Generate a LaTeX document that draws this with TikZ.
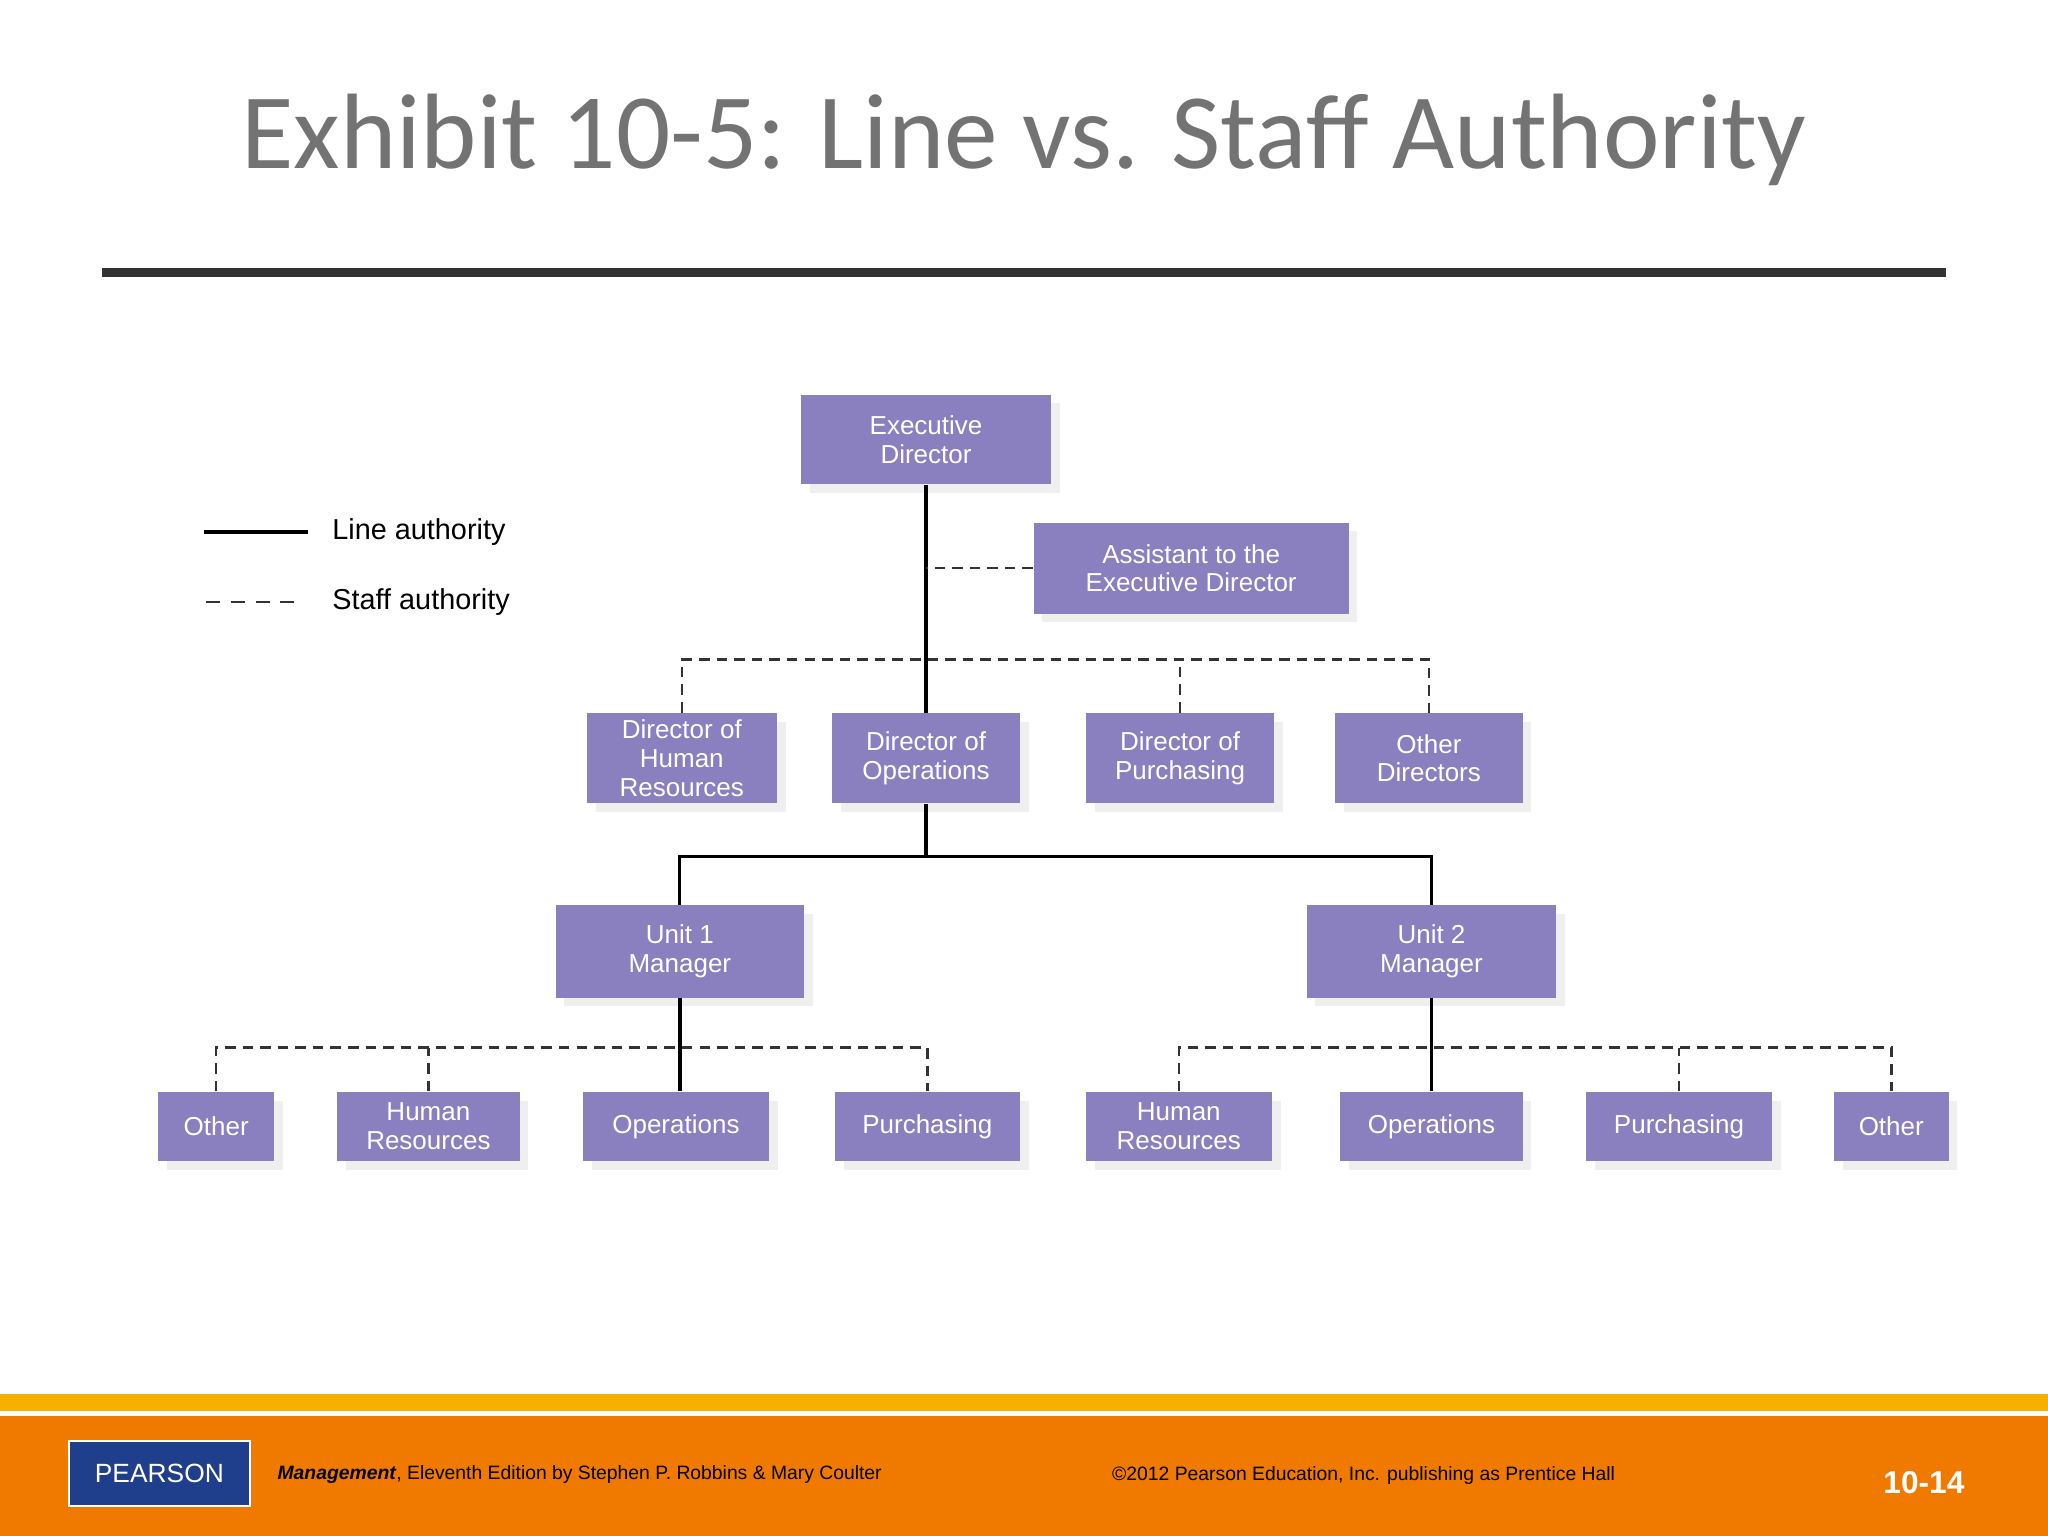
\documentclass[tikz,border=0pt]{standalone}
\usepackage{fontspec}
\setmainfont{Liberation Sans}
\newfontfamily\titlefont{Carlito}
\usetikzlibrary{shadows}
\definecolor{boxc}{HTML}{8A80BF}
\definecolor{orng}{HTML}{F07A00}
\definecolor{gold}{HTML}{F5B000}
\definecolor{pblue}{HTML}{1F3E8C}
\tikzset{
 box/.style={fill=boxc,draw=none,text=white,align=center,inner sep=0pt,
   font=\fontsize{7.4}{8.2}\selectfont,
   drop shadow={shadow xshift=2.5pt,shadow yshift=-2.5pt,opacity=0.12,fill=gray}},
 line/.style={line width=1.1pt,black},
 staff/.style={line width=0.7pt,dash pattern=on 3pt off 2pt,black!80},
}
\newcommand{\bx}[6]{\node[box,minimum width={(#3-#2)*0.3703pt},minimum height={(#5-#4)*0.3703pt}] (#1) at ({(#2+#3)/2},{(#4+#5)/2}) {#6};}
\begin{document}
\begin{tikzpicture}[x=0.013061cm,y=-0.013061cm]
\useasboundingbox (0,0) rectangle (1568,1176);
\fill[white] (0,0) rectangle (1568,1176);
\node[text=black!55,font=\titlefont\fontsize{30.5}{36}\selectfont] (title) at (784,107) {Exhibit 10-5: Line vs. Staff Authority};
\fill[black!80] (78,205) rectangle (1490,212);
% legend
\coordinate (l1a) at (156,407); \coordinate (l1b) at (236,407);
\coordinate (l2a) at (158,461); \coordinate (l2b) at (230,461);
\draw[line] (l1a)--(l1b); \draw[staff,dash pattern=on 4pt off 3pt] (l2a)--(l2b);
\node[anchor=west,inner sep=0pt,font=\fontsize{8.2}{10}\selectfont] (lt1) at (254,407) {Line authority};
\node[anchor=west,inner sep=0pt,font=\fontsize{8.2}{10}\selectfont] (lt2) at (254,461) {Staff authority};
% boxes
\bx{ed}{613}{805}{302}{371}{Executive\\Director}
\bx{as}{791}{1033}{400}{470}{Assistant to the\\Executive Director}
\bx{dhr}{449}{595}{546}{615}{Director of\\Human\\Resources}
\bx{dop}{637}{781}{546}{615}{Director of\\Operations}
\bx{dpu}{831}{976}{546}{615}{Director of\\Purchasing}
\bx{dot}{1022}{1166}{546}{615}{Other\\Directors}
\bx{u1}{425}{616}{693}{764}{Unit 1\\Manager}
\bx{u2}{1000}{1192}{693}{764}{Unit 2\\Manager}
\bx{a1}{121}{210}{836}{889}{Other}
\bx{a2}{258}{398}{836}{889}{Human\\Resources}
\bx{a3}{446}{589}{836}{889}{Operations}
\bx{a4}{639}{781}{836}{889}{Purchasing}
\bx{b1}{831}{974}{836}{889}{Human\\Resources}
\bx{b2}{1026}{1166}{836}{889}{Operations}
\bx{b3}{1214}{1357}{836}{889}{Purchasing}
\bx{b4}{1404}{1492}{836}{889}{Other}
% connectors
\draw[line] (ed.south) -- (ed.south |- dop.north);
\draw[staff] (as.west) -- (as.west -| ed.south);
\draw[staff] (dhr.north) |- (710,505) -| (dot.north);
\draw[staff] (dpu.north) -- (dpu.north |- 0,505);
\draw[line] (dop.south) -- (dop.south |- 0,656);
\draw[line,line width=0.8pt] (u1.north) |- (710,656) -| (u2.north);
\draw[line] (u1.south) -- (a3.north -| u1.south);
\draw[staff] (a1.north) |- (520,802) -| (a4.north);
\draw[staff] (a2.north) -- (328,802);
\draw[line] (u2.south) -- (b2.north -| u2.south);
\draw[staff] (b1.north) |- (1096,802) -| (b4.north);
\draw[staff] (b3.north) -- (b3.north |- 0,802);
% footer
\fill[gold] (0,1067) rectangle (1568,1080);
\fill[orng] (0,1084) rectangle (1568,1176);
\node[fill=pblue,draw=white,line width=0.5pt,minimum width={139*0.3703pt},minimum height={50*0.3703pt},text=white,font=\fontsize{7.5}{9}\selectfont] (logo) at (122,1128) {PEARSON};
\node[anchor=west,inner sep=0pt,font=\fontsize{5.5}{7}\selectfont] (f1) at (212,1129) {\textbf{\textit{Management}}, Eleventh Edition by Stephen P. Robbins \& Mary Coulter};
\node[anchor=west,inner sep=0pt,font=\fontsize{5.5}{7}\selectfont] (f2) at (851,1130) {©2012 Pearson Education, Inc. publishing as Prentice Hall};
\node[text=white,font=\bfseries\fontsize{9}{10}\selectfont] (pg) at (1473,1135) {10-14};
\end{tikzpicture}
\end{document}
